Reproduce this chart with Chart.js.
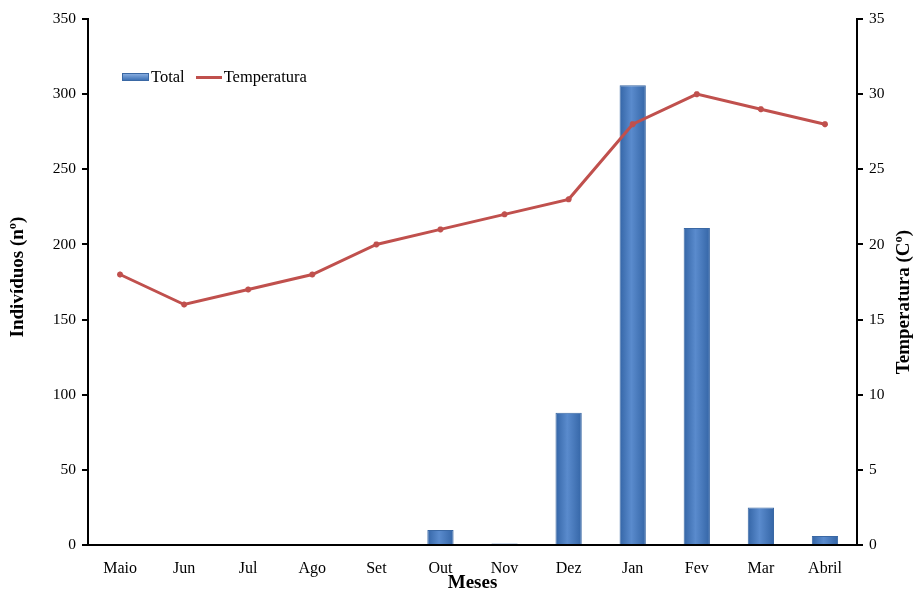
<!DOCTYPE html>
<html>

<head>
  <script src="https://cdn.jsdelivr.net/npm/chart.js"></script>
  <style>
    body { margin: 0; background: #fff; }
    #wrap { position: relative; width: 914px; height: 590px; }
    #legend { position: absolute; left: 122px; top: 67px; font: 16.5px "Liberation Serif", serif; color: #000; display: flex; align-items: center; }
    #legend .sw-bar { display: inline-block; width: 25px; height: 6px; background: linear-gradient(#86acdf, #3f73b6); border: 1px solid #3a68a4; margin-right: 2px; }
    #legend .sw-line { display: inline-block; width: 26px; height: 3px; background: #c0504d; margin: 0 2px 0 11px; }
  </style>
</head>

<body>
  <div id="wrap">
    <canvas id="chart" width="914" height="590"></canvas>
    <div id="legend"><span class="sw-bar"></span>Total<span class="sw-line"></span>Temperatura</div>
  </div>
  <script>
    var meses = ['Maio', 'Jun', 'Jul', 'Ago', 'Set', 'Out', 'Nov', 'Dez', 'Jan', 'Fev', 'Mar', 'Abril'];
    var total = [0, 0, 0, 0, 0, 10, 1, 88, 306, 211, 25, 6];
    var temperatura = [18, 16, 17, 18, 20, 21, 22, 23, 28, 30, 29, 28];

    var font = "'Liberation Serif', serif";
    var barPct = 0.41;
    var cxt = document.getElementById('chart').getContext('2d');

    // bars get a slight sideways shade like the original
    function barFill(context) {
      var xs = context.chart.scales.x;
      if (!xs || context.dataIndex === undefined) return '#4f81bd';
      var cx = xs.getPixelForValue(context.dataIndex);
      var w = (xs.right - xs.left) / meses.length * barPct;
      if (!isFinite(cx) || !w) return '#4f81bd';
      var g = cxt.createLinearGradient(cx - w / 2, 0, cx + w / 2, 0);
      g.addColorStop(0, '#3465a6');
      g.addColorStop(0.45, '#5a8bcd');
      g.addColorStop(1, '#3465a6');
      return g;
    }

    // axis titles drawn by hand: the right one reads bottom-to-top in the original
    var titles = {
      id: 'titles',
      afterDraw: function (chart) {
        var c = chart.ctx, a = chart.chartArea;
        c.save();
        c.fillStyle = '#000';
        c.font = 'bold 19px ' + font;
        c.textAlign = 'center';
        c.textBaseline = 'middle';
        c.fillText('Meses', (a.left + a.right) / 2, 583);
        c.save();
        c.translate(18, 277);
        c.rotate(-Math.PI / 2);
        c.fillText('Indivíduos (nº)', 0, 0);
        c.restore();
        c.translate(904, 302);
        c.rotate(-Math.PI / 2);
        c.fillText('Temperatura (Cº)', 0, 0);
        c.restore();
      }
    };

    var myChart = new Chart(cxt, {
      data: {
        labels: meses,
        datasets: [
          {
            type: 'line',
            label: 'Temperatura',
            data: temperatura,
            yAxisID: 'y2',
            borderColor: '#c0504d',
            backgroundColor: '#c0504d',
            borderWidth: 3,
            pointStyle: 'star',
            pointRadius: 3,
            pointBorderWidth: 2,
            tension: 0,
            order: 0
          },
          {
            type: 'bar',
            label: 'Total',
            data: total,
            yAxisID: 'y',
            backgroundColor: barFill,
            borderColor: '#3a68a4',
            borderWidth: 1,
            categoryPercentage: 1,
            barPercentage: barPct,
            order: 1
          }
        ]
      },
      plugins: [titles],
      options: {
        responsive: false,
        animation: false,
        layout: { padding: { top: 19, left: 0, right: 0, bottom: 0 } },
        plugins: {
          legend: { display: false },
          tooltip: { enabled: false }
        },
        scales: {
          x: {
            offset: true,
            grid: { display: false },
            border: { color: '#000', width: 2 },
            ticks: { color: '#000', font: { family: font, size: 16 }, padding: 6 },
            afterFit: function (s) { s.height = 45; }
          },
          y: {
            position: 'left',
            min: 0,
            max: 350,
            ticks: { stepSize: 50, color: '#000', font: { family: font, size: 15.5 }, padding: 6 },
            grid: { drawOnChartArea: false, color: '#000', tickLength: 6, lineWidth: 2 },
            border: { color: '#000', width: 2 },
            afterFit: function (s) { s.width = 88; }
          },
          y2: {
            position: 'right',
            min: 0,
            max: 35,
            ticks: { stepSize: 5, color: '#000', font: { family: font, size: 15.5 }, padding: 6 },
            grid: { drawOnChartArea: false, color: '#000', tickLength: 6, lineWidth: 2 },
            border: { color: '#000', width: 2 },
            afterFit: function (s) { s.width = 57; }
          }
        }
      }
    });
  </script>
</body>

</html>
